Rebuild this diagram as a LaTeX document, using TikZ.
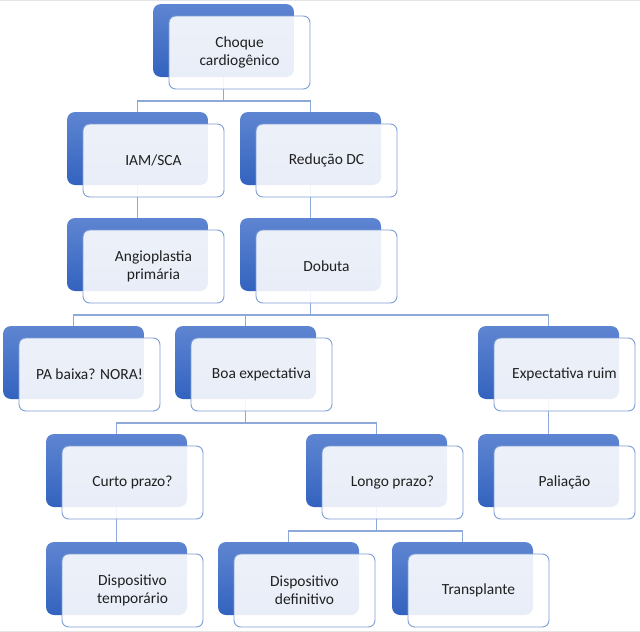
\documentclass[tikz,border=0pt]{standalone}
\usepackage{fontspec}
\setmainfont{Carlito}
\usetikzlibrary{calc,backgrounds}
\definecolor{bluetop}{HTML}{5E85D1}
\definecolor{bluebot}{HTML}{3363BF}
\definecolor{frontline}{HTML}{7D9DD6}
\definecolor{connline}{HTML}{8EA8D8}
\definecolor{edgegray}{HTML}{E4E4E4}
\definecolor{txt}{HTML}{202020}
\tikzset{
  backcard/.style={anchor=north west, minimum width=105.75pt, minimum height=54.75pt,
    inner sep=0pt, outer sep=0pt, rounded corners=6pt, top color=bluetop, bottom color=bluebot, draw=none},
  frontcard/.style={anchor=north west, minimum width=105.75pt, minimum height=54.75pt,
    inner sep=0pt, outer sep=0pt, rounded corners=5pt, draw=frontline, line width=0.7pt,
    fill=white, fill opacity=0.89, text opacity=1, text=txt, align=center,
    font=\fontsize{11.6}{13.8}\selectfont},
  conn/.style={draw=connline, line width=1.1pt},
}
\newcommand{\mycard}[4]{%
  \node[backcard] (#1b) at (#2,#3) {};
  \node[frontcard] (#1) at ($(#2,#3)+(16,12)$) {#4};
}
\newcommand{\myconn}[2]{%
  \draw[conn] (#1b.south) |- ($(#2b.north)+(0,-11)$) -- (#2b.north);
}
\begin{document}
\begin{tikzpicture}[x=0.75pt,y=-0.75pt]
\useasboundingbox (0,0) rectangle (640,632);

\mycard{root}{153}{4}{Choque\\cardiogênico}
\mycard{iam}{67}{112}{IAM/SCA}
\mycard{red}{240}{112}{Redução DC}
\mycard{angio}{67}{218}{Angioplastia\\primária}
\mycard{dob}{240}{218}{Dobuta}
\mycard{pa}{3}{326}{PA baixa? NORA!}
\mycard{boa}{175}{326}{Boa expectativa}
\mycard{ruim}{478}{326}{Expectativa ruim}
\mycard{curto}{46}{434}{Curto prazo?}
\mycard{longo}{306}{434}{Longo prazo?}
\mycard{pal}{478}{434}{Paliação}
\mycard{temp}{46}{542}{Dispositivo\\temporário}
\mycard{defi}{218}{542}{Dispositivo\\definitivo}
\mycard{trans}{392}{542}{Transplante}

\begin{pgfonlayer}{background}
\fill[white] (0,0) rectangle (640,632);
\fill[edgegray] (0,0) rectangle (640,1.3);
\fill[edgegray] (0,630.7) rectangle (640,632);
\myconn{root}{iam}
\myconn{root}{red}
\myconn{iam}{angio}
\myconn{red}{dob}
\myconn{dob}{pa}
\myconn{dob}{boa}
\myconn{dob}{ruim}
\myconn{boa}{curto}
\myconn{boa}{longo}
\myconn{ruim}{pal}
\myconn{curto}{temp}
\myconn{longo}{defi}
\myconn{longo}{trans}
\end{pgfonlayer}
\end{tikzpicture}
\end{document}
